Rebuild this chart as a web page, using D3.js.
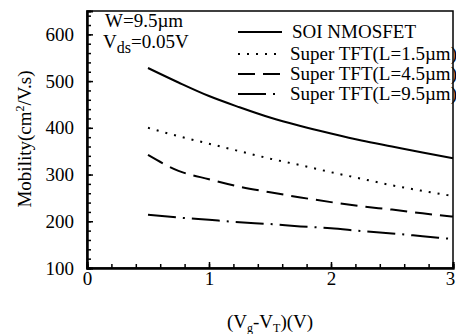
<!DOCTYPE html>
<html>
<head>
<meta charset="utf-8">
<script src="https://cdn.jsdelivr.net/npm/d3@7"></script>
<style>
  body { margin: 0; background: #fff; }
  svg text { font-family: "Liberation Serif", "Times New Roman", Times, serif; fill: #000; }
</style>
</head>
<body>
<svg id="chart" width="456" height="334"></svg>
<script>
// Vg - VT sample points (V)
const vgt = [0.5, 0.75, 1, 1.25, 1.5, 1.75, 2, 2.25, 2.5, 2.75, 3];

// mobility (cm^2/V.s)
const soi   = [528, 497, 468, 444, 422, 404, 388, 373, 360, 347, 335];
const tft15 = [400, 382, 366, 350, 334, 320, 305, 291, 277, 265, 254];
const tft45 = [342, 308, 290, 274, 262, 251, 241, 232, 225, 217, 210];
const tft95 = [214, 208, 203, 198, 194, 189, 185, 179, 174, 168, 162];

const seriesNames = ['SOI NMOSFET', 'Super TFT(L=1.5\u00b5m)', 'Super TFT(L=4.5\u00b5m)', 'Super TFT(L=9.5\u00b5m)'];
const dashes = [null, '2,7', '17,8', '28,7,2,7'];

const xTicks = [0, 1, 2, 3];
const yTicks = [100, 200, 300, 400, 500, 600];

const serif = '"Liberation Serif", "Times New Roman", Times, serif';
const svg = d3.select('#chart');
const m = { left: 87, right: 453, top: 11, bottom: 268 };

const x = d3.scaleLinear().domain([0, 3]).range([m.left, m.right]);
const y = d3.scaleLinear().domain([100, 650]).range([m.bottom, m.top]);

// frame
svg.append('rect')
  .attr('x', m.left).attr('y', m.top)
  .attr('width', m.right - m.left).attr('height', m.bottom - m.top)
  .attr('fill', 'none').attr('stroke', '#000').attr('stroke-width', 1.5);

// inward ticks on bottom and left
const xAxis = d3.axisBottom(x).tickValues(xTicks).tickSize(-6).tickFormat(d3.format('d'));
const xMinor = d3.axisBottom(x).tickValues(d3.range(0, 3.001, 0.2)).tickSize(-4).tickFormat('');
const yAxis = d3.axisLeft(y).tickValues(yTicks).tickSize(-6);
const yMinor = d3.axisLeft(y).tickValues(d3.range(100, 651, 20)).tickSize(-4).tickFormat('');

function styleAxis(g) {
  g.attr('font-family', serif).attr('font-size', 19);
  g.select('.domain').attr('stroke-width', 2);
  g.selectAll('.tick line').attr('stroke-width', 1.5);
}

svg.append('g').attr('transform', `translate(0,${m.bottom})`).call(xMinor).call(styleAxis);
svg.append('g').attr('transform', `translate(${m.left},0)`).call(yMinor).call(styleAxis);

const gx = svg.append('g').attr('transform', `translate(0,${m.bottom})`).call(xAxis).call(styleAxis);
gx.selectAll('.tick text').attr('y', 4)
  .attr('dx', d => d === 3 ? -3 : 0);

const gy = svg.append('g').attr('transform', `translate(${m.left},0)`).call(yAxis).call(styleAxis);
gy.selectAll('.tick text').attr('x', -13);

// curves
const line = d3.line()
  .x((d, i) => x(vgt[i]))
  .y(d => y(d))
  .curve(d3.curveMonotoneX);

[soi, tft15, tft45, tft95].forEach((s, i) => {
  svg.append('path')
    .attr('d', line(s))
    .attr('fill', 'none')
    .attr('stroke', '#000')
    .attr('stroke-width', 2)
    .attr('stroke-dasharray', dashes[i]);
});

// legend
const legY = [32, 54, 74, 94];
seriesNames.forEach((name, i) => {
  svg.append('line')
    .attr('x1', 238).attr('x2', 282)
    .attr('y1', legY[i]).attr('y2', legY[i])
    .attr('stroke', '#000').attr('stroke-width', 2)
    .attr('stroke-dasharray', dashes[i]);
  svg.append('text')
    .attr('x', i === 0 ? 292 : 290).attr('y', legY[i] + 6)
    .attr('font-size', 19)
    .text(name);
});

// annotation
svg.append('text').attr('x', 105).attr('y', 27).attr('font-size', 19).text('W=9.5\u00b5m');
const vds = svg.append('text').attr('x', 103).attr('y', 48).attr('font-size', 19);
vds.append('tspan').text('V');
vds.append('tspan').attr('dy', 5).attr('font-size', 16).text('ds');
vds.append('tspan').attr('dy', -5).text('=0.05V');

// axis titles
const xt = svg.append('text').attr('x', 270).attr('y', 328).attr('text-anchor', 'middle').attr('font-size', 19);
xt.append('tspan').text('(V');
xt.append('tspan').attr('dy', 4).attr('font-size', 12).text('g');
xt.append('tspan').attr('dy', -4).text('-V');
xt.append('tspan').attr('dy', 4).attr('font-size', 12).text('T');
xt.append('tspan').attr('dy', -4).text(')(V)');

const yt = svg.append('text')
  .attr('transform', 'translate(31,139) rotate(-90)')
  .attr('text-anchor', 'middle').attr('font-size', 19);
yt.append('tspan').text('Mobility(cm');
yt.append('tspan').attr('dy', -7).attr('font-size', 12).text('2');
yt.append('tspan').attr('dy', 7).text('/V.s)');
</script>
</body>
</html>
